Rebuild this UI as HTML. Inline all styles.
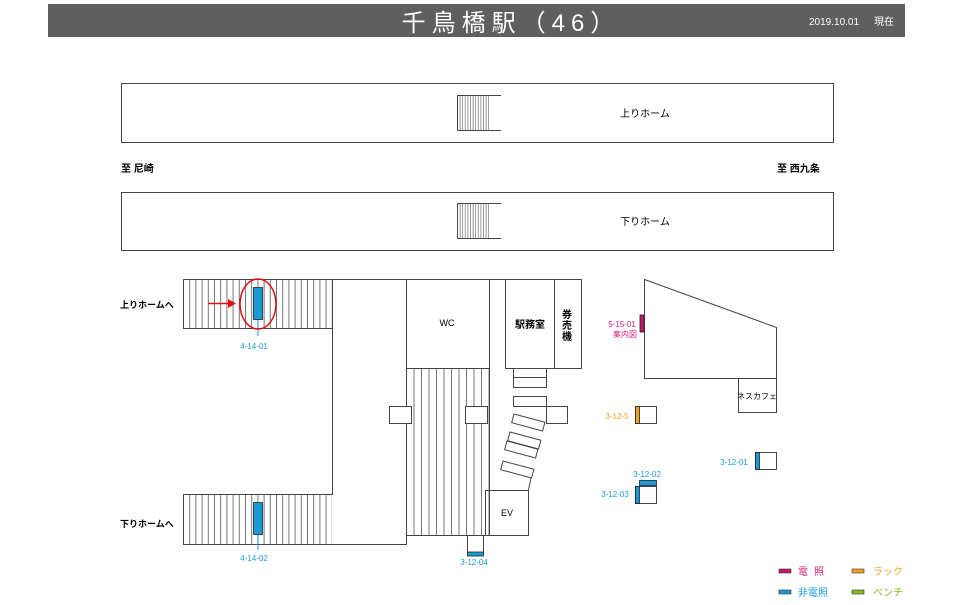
<!DOCTYPE html>
<html><head><meta charset="utf-8"><style>
html,body{margin:0;padding:0;background:#fff;width:960px;height:605px;overflow:hidden}
svg{display:block}
text{font-family:"Liberation Sans","Noto Sans CJK JP",sans-serif}
</style></head><body>
<svg width="960" height="605" viewBox="0 0 960 605" xmlns="http://www.w3.org/2000/svg">
<defs>
<pattern id="st6" x="183" y="0" width="6.2" height="10" patternUnits="userSpaceOnUse"><line x1="0.5" y1="0" x2="0.5" y2="10" stroke="#555" stroke-width="0.8"/></pattern>
<pattern id="st7" x="406" y="0" width="7.5" height="10" patternUnits="userSpaceOnUse"><line x1="0.5" y1="0" x2="0.5" y2="10" stroke="#555" stroke-width="0.8"/></pattern>
<pattern id="st3" x="457" y="0" width="2.6" height="10" patternUnits="userSpaceOnUse"><line x1="0.5" y1="0" x2="0.5" y2="10" stroke="#555" stroke-width="0.6"/></pattern>
</defs>
<rect x="48" y="4" width="857" height="33" fill="#5f5f5f"/>
<text x="511" y="31" fill="#fff" font-size="24" text-anchor="middle" letter-spacing="6">千鳥橋駅（46）</text>
<text x="809" y="25" fill="#fff" font-size="10">2019.10.01</text>
<text x="874" y="25" fill="#fff" font-size="10">現在</text>

<g fill="none" stroke="#444" stroke-width="1">
<rect x="121.5" y="83.5" width="712" height="59"/>
<rect x="121.5" y="192.5" width="712" height="58"/>
</g>
<rect x="457" y="95" width="32" height="35" fill="url(#st3)"/>
<path d="M501 95.5H457.5V130.5H501 M457.5 203.5V238.5" fill="none" stroke="#444"/>
<path d="M501 203.5H457.5V238.5H501" fill="none" stroke="#444"/>
<rect x="457" y="203" width="32" height="35" fill="url(#st3)"/>
<text x="645" y="117" font-size="10" text-anchor="middle">上りホーム</text>
<text x="645" y="225" font-size="10" text-anchor="middle">下りホーム</text>
<text x="121" y="172" font-size="10" font-weight="bold">至 尼崎</text>
<text x="777" y="172" font-size="10" font-weight="bold">至 西九条</text>

<rect x="183" y="279" width="149" height="49" fill="url(#st6)"/>
<rect x="183" y="494" width="149" height="50" fill="url(#st6)"/>
<rect x="406" y="368" width="83" height="167" fill="url(#st7)"/>
<g fill="none" stroke="#444" stroke-width="1">
<path d="M183.5 279.5H581.5V368.5H505.5V279.5 M554.5 279.5V368.5"/>
<path d="M183.5 279.5V328.5H332.5 M332.5 279.5V494.5H183.5V544.5H406.5V279.5"/>
<rect x="406.5" y="279.5" width="83" height="89"/>
<path d="M406.5 368.5V535.5H528.5 M489.5 368.5V535.5"/>
<rect x="389.5" y="406.5" width="22" height="17" fill="#fff"/>
<rect x="465.5" y="406.5" width="22" height="17" fill="#fff"/>
<rect x="513.5" y="368.5" width="33" height="9"/>
<rect x="513.5" y="377.5" width="33" height="10"/>
<rect x="513.5" y="396.5" width="33" height="10"/>
<rect x="546.5" y="406.5" width="21" height="17"/>
<rect x="0" y="0" width="32" height="9" transform="translate(514,414) rotate(15)"/>
<rect x="0" y="0" width="32" height="9" transform="translate(510,432) rotate(15)"/>
<rect x="0" y="0" width="32" height="9" transform="translate(507,441) rotate(15)"/>
<rect x="0" y="0" width="32" height="9" transform="translate(503,461) rotate(15)"/>
<path d="M531 478L528.5 490"/>
<rect x="485.5" y="490.5" width="43" height="45"/>
<path d="M467.5 535.5V553.5 M483.5 535.5V553.5"/>
<path d="M644.5 279.5L776.5 327.5V378.5H644.5Z"/>
<rect x="738.5" y="378.5" width="38" height="34"/>
<rect x="635.5" y="406.5" width="21" height="17"/>
<rect x="755.5" y="452.5" width="21" height="17"/>
<rect x="635.5" y="486.5" width="21" height="17"/>
</g>
<text x="447" y="326" font-size="9" text-anchor="middle">WC</text>
<text x="530" y="328" font-size="10" font-weight="bold" text-anchor="middle">駅務室</text>
<text x="567" y="318" font-size="10" font-weight="bold" text-anchor="middle">券</text>
<text x="567" y="329" font-size="10" font-weight="bold" text-anchor="middle">売</text>
<text x="567" y="340" font-size="10" font-weight="bold" text-anchor="middle">機</text>
<text x="507" y="516" font-size="9" text-anchor="middle">EV</text>
<text x="757" y="399" font-size="8" text-anchor="middle">ネスカフェ</text>
<text x="120" y="308" font-size="9" font-weight="bold">上りホームへ</text>
<text x="120" y="527" font-size="9" font-weight="bold">下りホームへ</text>

<g stroke="#222" stroke-width="0.8">
<rect x="253.5" y="287.5" width="9" height="32" fill="#1a9ad6"/>
<rect x="253.5" y="502.5" width="9" height="32" fill="#1a9ad6"/>
<rect x="467.5" y="552" width="16" height="4" fill="#1a9ad6"/>
<rect x="640" y="315" width="4" height="17" fill="#c8186e"/>
<rect x="635.5" y="406.5" width="4" height="17" fill="#f0a020"/>
<rect x="755.5" y="452.5" width="4" height="17" fill="#1a9ad6"/>
<rect x="635.5" y="486.5" width="4" height="17" fill="#1a9ad6"/>
<rect x="639.5" y="480.5" width="17" height="5" fill="#1a9ad6"/>
</g>
<path d="M258 320V336 M258 535V550" stroke="#1a9ad6"/>
<ellipse cx="258" cy="304" rx="18" ry="25" fill="none" stroke="#e01010" stroke-width="1.5"/>
<path d="M208 303.5H232" stroke="#e01010" stroke-width="1.5"/>
<path d="M236 303.5L228 299V308Z" fill="#e01010"/>
<g font-size="8" fill="#1a9ad6" text-anchor="middle">
<text x="254" y="349">4-14-01</text>
<text x="254" y="561">4-14-02</text>
<text x="474" y="565">3-12-04</text>
<text x="734" y="465">3-12-01</text>
<text x="647" y="477">3-12-02</text>
<text x="615" y="497">3-12-03</text>
</g>
<text x="617" y="419" font-size="8" fill="#f0a020" text-anchor="middle">3-12-5</text>
<text x="622" y="327" font-size="8" fill="#d0207a" text-anchor="middle">5-15-01</text>
<text x="625" y="337" font-size="8" fill="#d0207a" text-anchor="middle">案内図</text>

<g stroke="#333" stroke-width="0.6">
<rect x="779" y="569" width="12" height="4" fill="#c8186e"/>
<rect x="852" y="569" width="12" height="4" fill="#f0a020"/>
<rect x="779" y="590" width="12" height="4" fill="#1a9ad6"/>
<rect x="852" y="590" width="12" height="4" fill="#8ab820"/>
</g>
<text x="798" y="575" font-size="10" fill="#d0207a" letter-spacing="6">電照</text>
<text x="873" y="575" font-size="10" fill="#f0a020">ラック</text>
<text x="798" y="596" font-size="10" fill="#1a9ad6">非電照</text>
<text x="873" y="596" font-size="10" fill="#8ab820">ベンチ</text>
</svg>
</body></html>
